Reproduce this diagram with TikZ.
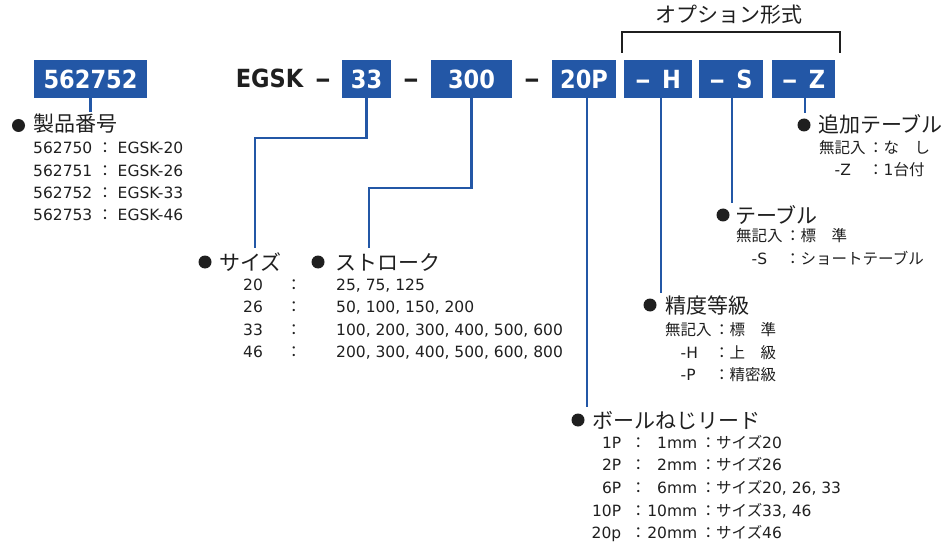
\documentclass[tikz,border=0pt]{standalone}
\usepackage{graphicx}
\usepackage{fontspec}
\setmainfont{DejaVu Sans}
\newfontfamily\jp{Noto Sans CJK JP}
\newfontfamily\boxfont{DejaVu Sans Condensed Bold}
\usetikzlibrary{positioning}
\definecolor{egblue}{HTML}{2357A6}
\colorlet{ink}{black!88}
\newcommand\cln{{\jp ：}}
\newcommand\bdash{\scalebox{1.4}[1]{–}}
\newcommand\rowsize{\fontsize{15.5}{18}\selectfont}
\newcommand\headsize{\fontsize{21}{24}\selectfont}
\newcommand\codesize{\fontsize{25}{28}\selectfont}

\begin{document}
\begin{tikzpicture}[x=1pt,y=-1pt,
    codebox/.style={fill=egblue, text=white, inner sep=0, minimum height=38, font=\boxfont\codesize},
    codetext/.style={anchor=base, inner sep=0, text=ink, font=\boxfont\codesize},
    head/.style={anchor=base west, inner sep=0, text=ink, font=\jp\headsize},
    dot/.style={circle, fill=ink, inner sep=0, minimum size=13},
    row/.style={anchor=base west, inner sep=0, text=ink, font=\rowsize},
    link/.style={egblue, line width=2.5},
    bracket/.style={ink, line width=2.6}]
        \useasboundingbox (0,0) rectangle (949,545);
        % Code boxes
        \node[codebox, minimum width=113] (p562752) at (90.5,79) {562752};
        \node[codetext] (egsk) at (269.5,88) {EGSK};
        \node[codetext] (d1) at (323,88) {\bdash};
        \node[codebox, minimum width=49] (b33) at (366.5,79) {33};
        \node[codetext] (d2) at (411,88) {\bdash};
        \node[codebox, minimum width=81] (b300) at (471.5,79) {300};
        \node[codetext] (d3) at (532,88) {\bdash};
        \node[codebox, minimum width=64] (b20P) at (584,79) {20P};
        \node[codebox, minimum width=68] (bH) at (658,79) {\bdash\hspace{0.45em}H};
        \node[codebox, minimum width=64] (bS) at (731,79) {\bdash\hspace{0.45em}S};
        \node[codebox, minimum width=63] (bZ) at (803.5,79) {\bdash\hspace{0.45em}Z};
        % Option bracket
        \coordinate (brL) at (622,53);
        \coordinate (brR) at (840,53);
        \draw[bracket] (brL) -- ++(0,-21) -| (brR);
        \node[head] (opt) at (655,23) {オプション形式};
        % Product number
        \node[dot] (dotPN) at (18.5,125.5) {};
        \node[head] (hPN) at (33,132) {製品番号};
        \coordinate (ePN) at (90.5,112);
        \draw[link] (p562752.south) -- (ePN);
        \foreach \pa/\pb [count=\i] in {562750/20, 562751/26, 562752/33, 562753/46}
          \node[row] (pn\i) at (33,{154+22.3*(\i-1)}) {\pa{} \cln{} EGSK-\pb};
        % Size
        \node[dot] (dotSz) at (205,262) {};
        \node[head] (hSz) at (219,270) {サイズ};
        \coordinate (eSz) at (255,248);
        \draw[link] (b33.south) -- ++(0,40) -| (eSz);
        \foreach \pa/\pb [count=\i] in {20/{25, 75, 125}, 26/{50, 100, 150, 200},
            33/{100, 200, 300, 400, 500, 600}, 46/{200, 300, 400, 500, 600, 800}}
          \node[row] (sz\i) at (243,{290+22.6*(\i-1)}) {\makebox[43pt][l]{\pa}\makebox[50pt][l]{\cln}\pb};
        % Stroke
        \node[dot] (dotSt) at (318,262) {};
        \node[head] (hSt) at (335,270) {ストローク};
        \coordinate (eSt) at (369,248);
        \draw[link] (b300.south) -- ++(0,90) -| (eSt);
        % Ball screw lead
        \node[dot] (dotLd) at (578,420) {};
        \node[head] (hLd) at (592,428) {ボールねじリード};
        \coordinate (eLd) at (587,407);
        \draw[link] (b20P.south -| eLd) -- (eLd);
        \foreach \pa/\pb/\pc [count=\i] in {1P/1mm/20, 2P/2mm/26, 6P/6mm/{20, 26, 33},
            10P/10mm/{33, 46}, 20p/20mm/46}
          \node[row] (ld\i) at (590,{448+22.7*(\i-1)})
            {\makebox[40.5pt][r]{\pa\hspace{9.5pt}}\cln\makebox[54.5pt][r]{\pb\hspace{3.5pt}}\cln{\jp サイズ}\pc};
        % Accuracy grade
        \node[dot] (dotAc) at (650,305) {};
        \node[head] (hAc) at (665,313) {精度等級};
        \coordinate (eAc) at (661,293);
        \draw[link] (bH.south -| eAc) -- (eAc);
        \node[row] (ac1) at (665,335) {\makebox[49pt][l]{\jp 無記入}\cln{\jp 標　準}};
        \node[row] (ac2) at (665,358) {\makebox[49pt][l]{\hspace{15.5pt}-H}\cln{\jp 上　級}};
        \node[row] (ac3) at (665,380) {\makebox[49pt][l]{\hspace{15.5pt}-P}\cln{\jp 精密級}};
        % Table
        \node[dot] (dotTb) at (723,215) {};
        \node[head] (hTb) at (735,223) {テーブル};
        \coordinate (eTb) at (732,203);
        \draw[link] (bS.south -| eTb) -- (eTb);
        \node[row] (tb1) at (736,241) {\makebox[49pt][l]{\jp 無記入}\cln{\jp 標　準}};
        \node[row] (tb2) at (736,264) {\makebox[49pt][l]{\hspace{15.5pt}-S}\cln{\jp ショートテーブル}};
        % Additional table
        \node[dot] (dotZ) at (804,125) {};
        \node[head] (hZ) at (818,133) {追加テーブル};
        \coordinate (eZ) at (805,113);
        \draw[link] (bZ.south -| eZ) -- (eZ);
        \node[row] (z1) at (819,153.5) {\makebox[49pt][l]{\jp 無記入}\cln{\jp な　し}};
        \node[row] (z2) at (819,176) {\makebox[49pt][l]{\hspace{15.5pt}-Z}\cln 1{\jp 台付}};
      \end{tikzpicture}
\end{document}
